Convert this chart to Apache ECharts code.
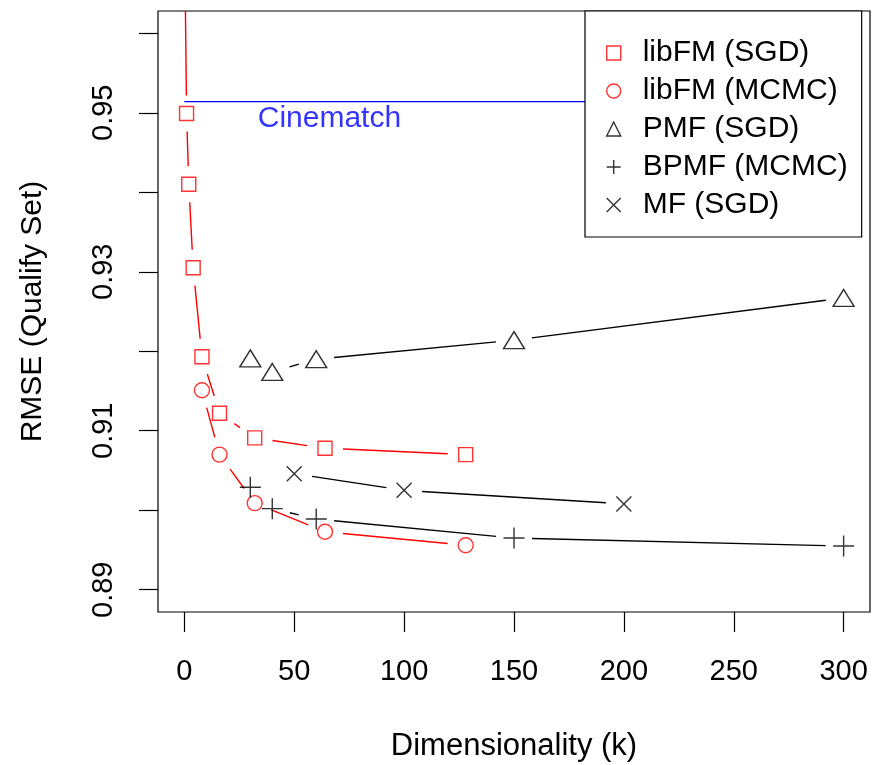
<!DOCTYPE html>
<html>
<head>
<meta charset="utf-8">
<script src="https://cdn.jsdelivr.net/npm/echarts@6/dist/echarts.min.js"></script>
<style>
html,body{margin:0;padding:0;background:#fff;}
#chart{width:874px;height:765px;}
</style>
</head>
<body>
<div id="chart"></div>
<script>
// ---------- data ----------
const kLibfmSGD   = [0, 1, 2, 4, 8, 16, 32, 64, 128];
const rmseLibfmSGD = [0.975, 0.9499, 0.9410, 0.9305, 0.9193, 0.9122, 0.9091, 0.9078, 0.9070];

const kLibfmMCMC   = [8, 16, 32, 64, 128];
const rmseLibfmMCMC = [0.9151, 0.9070, 0.9009, 0.8973, 0.8956];

const kPMF   = [30, 40, 60, 150, 300];
const rmsePMF = [0.9191, 0.9174, 0.9190, 0.9214, 0.9267];

const kBPMF   = [30, 40, 60, 150, 300];
const rmseBPMF = [0.9029, 0.9002, 0.8989, 0.8965, 0.8955];

const kMF   = [50, 100, 200];
const rmseMF = [0.9046, 0.9025, 0.9008];

const cinematchK = [0, 300];
const cinematchRMSE = 0.9514;
const cinematchLabel = 'Cinematch';
const cinematchLabelAt = [66, 0.9492];

const xTicks = [0, 50, 100, 150, 200, 250, 300];
const yTicks = [0.89, 0.90, 0.91, 0.92, 0.93, 0.94, 0.95, 0.96];
const yLabels = [0.89, 0.91, 0.93, 0.95];

const seriesNames = ['libFM (SGD)', 'libFM (MCMC)', 'PMF (SGD)', 'BPMF (MCMC)', 'MF (SGD)'];

// ---------- helpers ----------
const FONT = "'Liberation Sans', Arial, Helvetica, sans-serif";
const RED = '#ff0000', BLACK = '#000000';
const GAP = 18; // R type="b" gap around points (px)

function points(ks, vs) { return ks.map((k, i) => [k, vs[i]]); }
function pairs(ks, vs) {
  const out = [];
  for (let i = 0; i < ks.length - 1; i++) out.push([ks[i], vs[i], ks[i + 1], vs[i + 1]]);
  return out;
}
function gapLines(name, ks, vs, color) {
  return {
    type: 'custom', name: name + ' line', clip: true, silent: true,
    data: pairs(ks, vs),
    encode: { x: [0, 2], y: [1, 3] },
    renderItem: function (params, api) {
      const p1 = api.coord([api.value(0), api.value(1)]);
      const p2 = api.coord([api.value(2), api.value(3)]);
      const dx = p2[0] - p1[0], dy = p2[1] - p1[1];
      const d = Math.sqrt(dx * dx + dy * dy);
      if (d <= 2 * GAP) return null;
      const ux = dx / d, uy = dy / d;
      return {
        type: 'line',
        shape: { x1: p1[0] + ux * GAP, y1: p1[1] + uy * GAP, x2: p2[0] - ux * GAP, y2: p2[1] - uy * GAP },
        style: { stroke: color, lineWidth: 1.4, fill: null }
      };
    }
  };
}
const SYM = {
  square: { symbol: 'rect', size: 14 },
  circle: { symbol: 'circle', size: 15 },
  triangle: { symbol: 'triangle', size: [21, 17] },
  plus: { symbol: 'path://M0,10L20,10M10,0L10,20', size: 21 },
  cross: { symbol: 'path://M0,0L20,20M20,0L0,20', size: 15 }
};
function marks(name, ks, vs, color, sym) {
  return {
    type: 'scatter', name: name, clip: true, z: 3,
    data: points(ks, vs),
    symbol: sym.symbol, symbolSize: sym.size,
    itemStyle: { color: 'rgba(0,0,0,0)', borderColor: color, borderWidth: 1.4 },
    emphasis: { disabled: true }
  };
}

const chart = echarts.init(document.getElementById('chart'), null, { renderer: 'canvas' });

const option = {
  animation: false,
  backgroundColor: '#ffffff',
  textStyle: { fontFamily: FONT },
  grid: {
    left: 158, right: 4, top: 11, bottom: 153,
    show: true, borderColor: '#000', borderWidth: 1.2, backgroundColor: 'transparent',
    containLabel: false, outerBoundsMode: 'none'
  },
  xAxis: {
    type: 'value', min: -12, max: 312,
    name: 'Dimensionality (k)', nameLocation: 'middle', nameGap: 119,
    nameTextStyle: { fontSize: 31, color: '#000', fontFamily: FONT },
    axisLine: { show: false, onZero: false },
    axisTick: { show: true, customValues: xTicks, length: 20, inside: false, lineStyle: { color: '#000', width: 1.2 } },
    axisLabel: { customValues: xTicks, fontSize: 29, color: '#000', margin: 45, fontFamily: FONT },
    splitLine: { show: false }
  },
  yAxis: {
    type: 'value', min: 0.8872, max: 0.9628,
    name: 'RMSE (Qualify Set)', nameLocation: 'middle', nameGap: 110, nameRotate: 90,
    nameTextStyle: { fontSize: 30, color: '#000', fontFamily: FONT },
    axisLine: { show: false, onZero: false },
    axisTick: { show: true, customValues: yTicks, length: 19, inside: false, lineStyle: { color: '#000', width: 1.2 } },
    axisLabel: {
      customValues: yLabels, rotate: 90, fontSize: 29, color: '#000', margin: 40, fontFamily: FONT,
      formatter: v => Number(v).toFixed(2)
    },
    splitLine: { show: false }
  },
  legend: {
    orient: 'vertical', left: 585, top: 11,
    backgroundColor: '#fff', borderColor: '#000', borderWidth: 1.2,
    padding: [27, 14, 17, 21],
    itemWidth: 14, itemHeight: 14, itemGap: 8,
    selectedMode: false,
    textStyle: { fontSize: 30, color: '#000', fontFamily: FONT, lineHeight: 30, padding: [0, 0, 0, 17] },
    data: [
      { name: seriesNames[0], itemStyle: { color: 'rgba(0,0,0,0)', borderColor: RED, borderWidth: 1.4 } },
      { name: seriesNames[1], itemStyle: { color: 'rgba(0,0,0,0)', borderColor: RED, borderWidth: 1.4 } },
      { name: seriesNames[2], itemStyle: { color: 'rgba(0,0,0,0)', borderColor: BLACK, borderWidth: 1.4 } },
      { name: seriesNames[3], itemStyle: { color: 'rgba(0,0,0,0)', borderColor: BLACK, borderWidth: 1.4 } },
      { name: seriesNames[4], itemStyle: { color: 'rgba(0,0,0,0)', borderColor: BLACK, borderWidth: 1.4 } }
    ],
    z: 20
  },
  series: [
    {
      type: 'line', name: 'Cinematch', data: cinematchK.map(k => [k, cinematchRMSE]),
      showSymbol: false, lineStyle: { color: '#0000ff', width: 1.4 }, z: 1, silent: true
    },
    {
      type: 'scatter', name: 'Cinematch label', data: [cinematchLabelAt], symbolSize: 0, silent: true,
      label: { show: true, position: 'inside', formatter: cinematchLabel, color: '#0000ff', fontSize: 30, fontFamily: FONT }
    },
    gapLines(seriesNames[0], kLibfmSGD, rmseLibfmSGD, RED),
    gapLines(seriesNames[1], kLibfmMCMC, rmseLibfmMCMC, RED),
    gapLines(seriesNames[2], kPMF, rmsePMF, BLACK),
    gapLines(seriesNames[3], kBPMF, rmseBPMF, BLACK),
    gapLines(seriesNames[4], kMF, rmseMF, BLACK),
    marks(seriesNames[0], kLibfmSGD, rmseLibfmSGD, RED, SYM.square),
    marks(seriesNames[1], kLibfmMCMC, rmseLibfmMCMC, RED, SYM.circle),
    marks(seriesNames[2], kPMF, rmsePMF, BLACK, SYM.triangle),
    marks(seriesNames[3], kBPMF, rmseBPMF, BLACK, SYM.plus),
    marks(seriesNames[4], kMF, rmseMF, BLACK, SYM.cross)
  ]
};
chart.setOption(option);
</script>
</body>
</html>
